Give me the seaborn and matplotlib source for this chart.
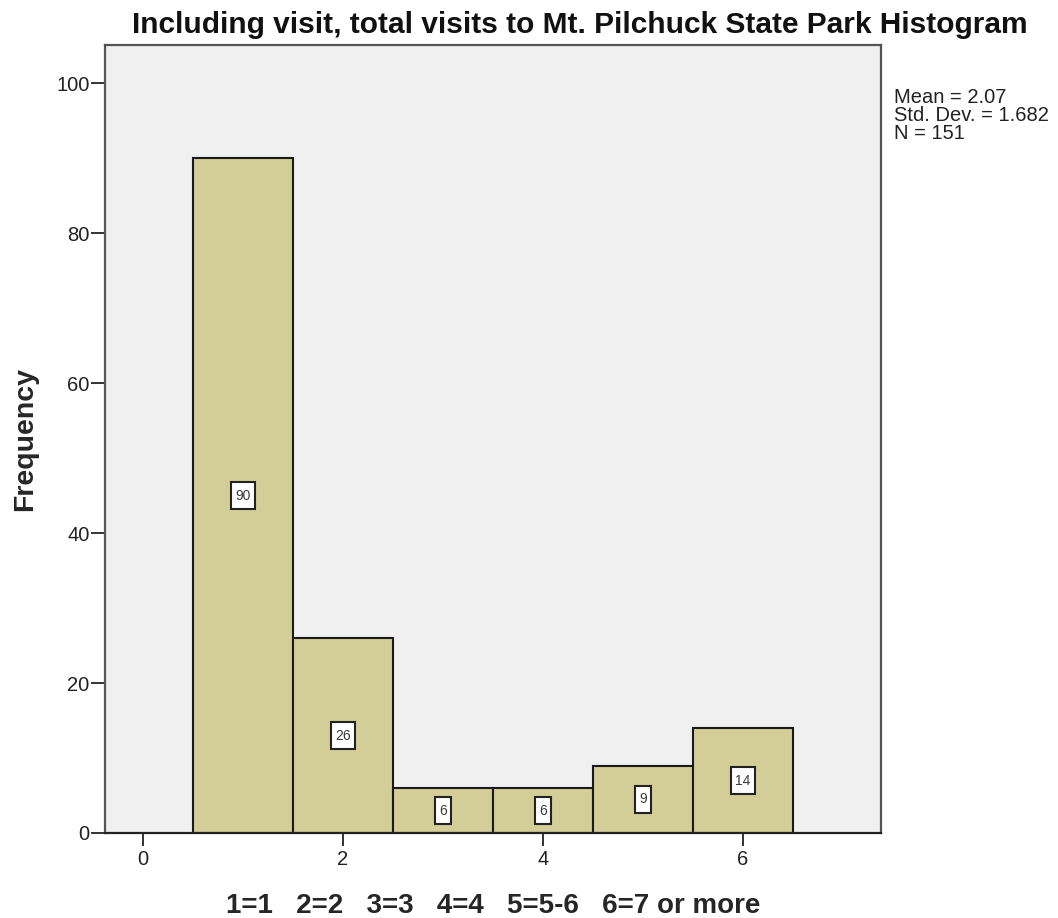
import matplotlib
matplotlib.use("Agg")
import matplotlib.pyplot as plt
from matplotlib.path import Path
import seaborn as sns
import pandas as pd

categories = [1, 2, 3, 4, 5, 6]
counts = [90, 26, 6, 6, 9, 14]
bar_labels = ["90", "26", "6", "6", "9", "14"]
x_ticks = [0, 2, 4, 6]
y_ticks = [0, 20, 40, 60, 80, 100]
title = "Including visit, total visits to Mt. Pilchuck State Park Histogram"
xlabel = "1=1   2=2   3=3   4=4   5=5-6   6=7 or more"
ylabel = "Frequency"
stats_text = "Mean = 2.07\nStd. Dev. = 1.682\nN = 151"

sns.set_theme(style="white")
plt.rcParams['font.family'] = ['Liberation Sans', 'DejaVu Sans']

df = pd.DataFrame({"value": categories, "count": counts})


def label_box(x0, y0, width, height, mutation_size):
    px = 0.28 * mutation_size
    py = 0.45 * mutation_size
    xa, ya = x0 - px, y0 - py
    xb, yb = x0 + width + px, y0 + height + py
    return Path([(xa, ya), (xb, ya), (xb, yb), (xa, yb), (xa, ya)], closed=True)


fig = plt.figure(figsize=(10.58, 9.18), dpi=100)
ax = fig.add_axes([105/1058, 1-833/918, (881-105)/1058, (833-45)/918])
ax.set_facecolor("#F0F0F0")

sns.histplot(data=df, x="value", weights="count", discrete=True,
             color="#D3CE97", edgecolor="#1a1a1a", linewidth=1.5,
             alpha=1.0, ax=ax)

for c, n, lab in zip(categories, counts, bar_labels):
    ax.text(c, n / 2, lab, ha="center", va="center", fontsize=10, color="#3a3a3a",
            bbox=dict(boxstyle=label_box, facecolor="white",
                      edgecolor="#222222", linewidth=1.5))

ax.set_xlim(-0.38, 7.38)
ax.set_ylim(0, 105.07)
ax.set_xticks(x_ticks)
ax.set_yticks(y_ticks)
ax.tick_params(axis="x", which="major", direction="out", length=9, width=1.4,
               color="#333333", labelsize=14.5, labelcolor="#222222", pad=3,
               bottom=True)
ax.tick_params(axis="y", which="major", direction="out", length=10, width=1.4,
               color="#333333", labelsize=14.5, labelcolor="#222222", pad=1,
               left=True)
for s in ax.spines.values():
    s.set_color("#555555")
    s.set_linewidth(1.6)
ax.spines["bottom"].set_color("#222222")

ax.set_xlabel(xlabel, fontsize=20, fontweight="bold")
ax.xaxis.set_label_coords(0.5, -0.076)
ax.set_ylabel(ylabel, fontsize=20.5, fontweight="bold")
ax.yaxis.set_label_coords(-0.0863, 0.5)

fig.text(580/1058, 1-25/918, title, ha="center", va="center", fontsize=21.5,
         fontweight="bold", color="#111111")

fig.text(894/1058, 1-88/918, stats_text, ha="left", va="top", fontsize=14.5,
         color="#222222", linespacing=0.93)

fig.savefig("out.png", dpi=100)
